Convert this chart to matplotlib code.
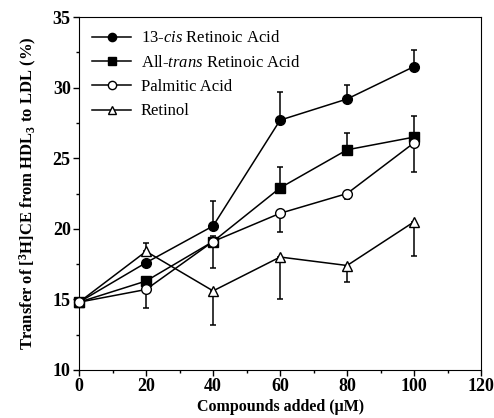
import numpy as np
from matplotlib import pyplot as plt
from matplotlib.ticker import MultipleLocator

plt.rcParams['font.family'] = ['Liberation Serif', 'DejaVu Serif']
plt.rcParams['mathtext.fontset'] = 'custom'
plt.rcParams['mathtext.rm'] = 'Liberation Serif'
plt.rcParams['mathtext.it'] = 'Liberation Serif:italic'
plt.rcParams['mathtext.bf'] = 'Liberation Serif:bold'

conc = [0, 20, 40, 60, 80, 100]

cis_vals = [14.8, 17.6, 20.2, 27.7, 29.2, 31.5]
cis_err_up = [0, 0, 1.8, 2.0, 1.0, 1.2]

trans_vals = [14.8, 16.3, 19.1, 22.9, 25.6, 26.5]
trans_err_up = [0, 0, 0.4, 1.5, 1.2, 1.5]

palm_vals = [14.8, 15.7, 19.1, 21.1, 22.5, 26.1]
palm_err_dn = [0, 1.3, 1.9, 1.3, 0.4, 2.1]

retinol_vals = [14.8, 18.4, 15.6, 18.0, 17.4, 20.5]
retinol_err_dn = [0, 0, 2.4, 3.0, 1.2, 2.4]
retinol_err_up = [0, 0.6, 0, 0, 0, 0]

labels = ['13-$\\it{cis}$ Retinoic Acid', 'All-$\\it{trans}$ Retinoic Acid',
          'Palmitic Acid', 'Retinol']

zeros = [0] * len(conc)

fig = plt.figure(figsize=(4.94, 4.18), dpi=100)
ax = fig.add_axes([0.16, 0.115, 0.814, 0.844])

common = dict(color='black', lw=1.1, elinewidth=1.1, capsize=2.5, capthick=1.1, ms=7,
              clip_on=False)

ax.errorbar(conc, cis_vals, yerr=[zeros, cis_err_up], marker='o', mfc='black',
            label=labels[0], zorder=4, **common)
ax.errorbar(conc, trans_vals, yerr=[zeros, trans_err_up], marker='s', mfc='black',
            label=labels[1], zorder=3, **common)
ax.errorbar(conc, palm_vals, yerr=[palm_err_dn, zeros], marker='o', mfc='white',
            label=labels[2], zorder=5, **common)
ax.errorbar(conc, retinol_vals, yerr=[retinol_err_dn, retinol_err_up], marker='^', mfc='white',
            label=labels[3], zorder=2, **common)

ax.set_xlim(0, 120)
ax.set_ylim(10, 35)
ax.xaxis.set_major_locator(MultipleLocator(20))
ax.xaxis.set_minor_locator(MultipleLocator(10))
ax.yaxis.set_major_locator(MultipleLocator(5))
ax.yaxis.set_minor_locator(MultipleLocator(2.5))
ax.tick_params(which='major', direction='out', length=4, width=1, labelsize=13, pad=2)
ax.tick_params(which='minor', direction='out', length=2, width=1)
for lab in ax.get_xticklabels() + ax.get_yticklabels():
    lab.set_fontweight('bold')

ax.set_xlabel('Compounds added (\u03bcM)', fontsize=11.5, fontweight='bold', labelpad=3)
ax.set_ylabel('Transfer of [$^\\mathbf{3}$H]CE from HDL$_\\mathbf{3}$ to LDL (%)',
              fontsize=12, fontweight='bold', labelpad=10)

handles, labs = ax.get_legend_handles_labels()
handles = [h[0] for h in handles]
ax.legend(handles, labs, loc='upper left', frameon=False, fontsize=12,
          handlelength=2.3, handletextpad=0.6, markerscale=0.85,
          borderaxespad=0.4, labelspacing=0.5)

plt.savefig('out.png', dpi=100)
plt.close()
